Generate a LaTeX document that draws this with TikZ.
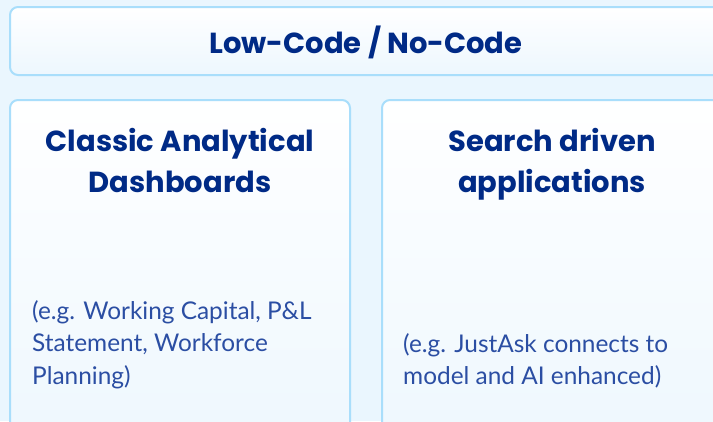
\documentclass[tikz,border=0pt]{standalone}
\usepackage{fontspec}
\setmainfont{Lato}
\newfontfamily\headfont{Poppins}
\usetikzlibrary{positioning}
\definecolor{PageBlue}{HTML}{EAF6FE}
\definecolor{PanelEdge}{HTML}{A9DEFB}
\definecolor{PanelTint}{HTML}{EDF7FE}
\definecolor{NavyInk}{HTML}{002A86}
\definecolor{NoteInk}{HTML}{2B4EA3}
\tikzset{
  panel/.style={draw=PanelEdge, line width=2pt, rounded corners=8pt,
    top color=white, bottom color=PanelTint},
  headtext/.style={NavyInk, font=\fontsize{29}{41}\selectfont\headfont\bfseries, align=center, inner sep=0pt},
  notetext/.style={NoteInk, font=\fontsize{24.4}{32.5}\selectfont, align=left, anchor=west, inner sep=0pt}
}
\begin{document}
\begin{tikzpicture}[x=1pt, y=-1pt]
    \useasboundingbox (0,0) rectangle (713,421);
    \clip (0,0) rectangle (713,421);
    \fill[PageBlue] (0,0) rectangle (713,421);
    % panels
    \draw[panel] (10,7) rectangle (760,75);
    \draw[panel] (10,100) rectangle (350,460);
    \draw[panel] (382,100) rectangle (760,460);
    % headings
    \node[headtext, font=\fontsize{29}{30}\selectfont\headfont\bfseries] (title) at (366,42) {Low-Code / No-Code};
    \node[headtext] (dash) at (180,160.5) {Classic Analytical\\Dashboards};
    \node[headtext] (search) at (552,164) {Search driven\\applications};
    % notes
    \node[notetext] (dashnote) at (32,344.5) {(e.g. Working Capital, P\&L\\Statement, Workforce\\Planning)};
    \node[notetext] (searchnote) at (403,361) {(e.g. JustAsk connects to\\model and AI enhanced)};
  \end{tikzpicture}
\end{document}
